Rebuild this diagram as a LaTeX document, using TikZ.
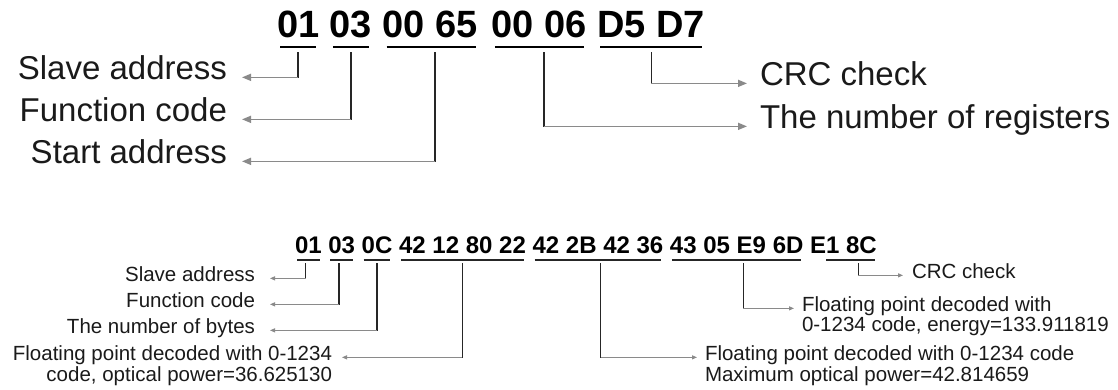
\documentclass[tikz,border=0pt]{standalone}
\usepackage{fontspec}
\setmainfont{Liberation Sans}
\usetikzlibrary{arrows.meta,calc}
\definecolor{linedark}{HTML}{262626}
\definecolor{linegray}{HTML}{8A8A8A}
\definecolor{txt}{HTML}{1A1A1A}
\begin{document}
\begin{tikzpicture}[x=1pt,y=-1pt,
  hexA/.style={font=\fontsize{38}{40}\selectfont\bfseries, inner sep=0pt, outer sep=0pt, anchor=base west, text=black},
  hexB/.style={font=\fontsize{24}{26}\selectfont\bfseries, inner sep=0pt, outer sep=0pt, anchor=base west, text=black},
  labA/.style={font=\fontsize{33}{36}\selectfont, inner sep=0pt, text=txt},
  labB/.style={font=\fontsize{20.5}{22}\selectfont, inner sep=0pt, text=txt},
  ulA/.style={line width=2pt, draw=black},
  ulB/.style={line width=1.8pt, draw=black!85},
  vA/.style={line width=1.5pt, draw=linedark, line cap=rect},
  hA/.style={line width=1.5pt, draw=linegray, -{Triangle[length=9pt,width=7pt]}},
  vB/.style={line width=1.2pt, draw=linedark, line cap=rect},
  hB/.style={line width=1pt, draw=linegray, -{Triangle[length=5pt,width=4pt]}},
]
\useasboundingbox (0,0) rectangle (1118,390);

% ---------- top frame ----------
\node[hexA] (t1) at (277,38) {01};
\node[hexA] (t2) at ($(t1.base east)+(10.56,0)$) {03};
\node[hexA] (t3) at ($(t2.base east)+(10.56,0)$) {00};
\node[hexA] (t4) at ($(t3.base east)+(10.56,0)$) {65};
\node[hexA] (t5) at ($(t4.base east)+(14,0)$) {00};
\node[hexA] (t6) at ($(t5.base east)+(10.56,0)$) {06};
\node[hexA] (t7) at ($(t6.base east)+(10.56,0)$) {D5};
\node[hexA] (t8) at ($(t7.base east)+(10.56,0)$) {D7};

\draw[ulA] ($(t1.base west)+(3,9)$) -- ($(t1.base east)+(-3,9)$);
\draw[ulA] ($(t2.base west)+(3,9)$) -- ($(t2.base east)+(-3,9)$);
\draw[ulA] ($(t3.base west)+(4,9)$) -- ($(t4.base east)+(-2,9)$);
\draw[ulA] ($(t5.base west)+(3,9)$) -- ($(t6.base east)+(-3,9)$);
\draw[ulA] ($(t7.base west)+(3,9)$) -- ($(t8.base east)+(-3,9)$);

\coordinate (m1) at ($(t1.base west)!0.5!(t1.base east)+(0,15)$);
\coordinate (m2) at ($(t2.base west)!0.5!(t2.base east)+(0,15)$);
\coordinate (m3) at ($(t3.base west)!0.55!(t4.base east)+(0,15)$);
\coordinate (m4) at ($(t5.base west)!0.55!(t6.base east)+(0,15)$);
\coordinate (m5) at ($(t7.base west)!0.5!(t8.base east)+(0,15)$);

\node[labA, anchor=base east, outer xsep=15pt] (l1) at (242,80) {Slave address};
\node[labA, anchor=base east, outer xsep=15pt] (l2) at (242,122) {Function code};
\node[labA, anchor=base east, outer xsep=15pt] (l3) at (242,164) {Start address};
\node[labA, anchor=base west, outer xsep=13pt] (r1) at (747,86) {CRC check};
\node[labA, anchor=base west, outer xsep=13pt] (r2) at (747,129) {The number of registers};

\draw[vA] (m1) -- (m1 |- l1.mid east);
\draw[hA] (m1 |- l1.mid east) -- (l1.mid east);
\draw[vA] (m2) -- (m2 |- l2.mid east);
\draw[hA] (m2 |- l2.mid east) -- (l2.mid east);
\draw[vA] (m3) -- (m3 |- l3.mid east);
\draw[hA] (m3 |- l3.mid east) -- (l3.mid east);
\draw[vA] (m4) -- (m4 |- r2.mid west);
\draw[hA] (m4 |- r2.mid west) -- (r2.mid west);
\draw[vA] (m5) -- (m5 |- r1.mid west);
\draw[hA] (m5 |- r1.mid west) -- (r1.mid west);

% ---------- bottom frame ----------
\node[hexB] (b1) at (295,253) {01};
\node[hexB] (b2) at ($(b1.base east)+(6.67,0)$) {03};
\node[hexB] (b3) at ($(b2.base east)+(6.67,0)$) {0C};
\node[hexB] (b4) at ($(b3.base east)+(6.67,0)$) {42};
\node[hexB] (b5) at ($(b4.base east)+(6.67,0)$) {12};
\node[hexB] (b6) at ($(b5.base east)+(6.67,0)$) {80};
\node[hexB] (b7) at ($(b6.base east)+(6.67,0)$) {22};
\node[hexB] (b8) at ($(b7.base east)+(6.67,0)$) {42};
\node[hexB] (b9) at ($(b8.base east)+(6.67,0)$) {2B};
\node[hexB] (b10) at ($(b9.base east)+(6.67,0)$) {42};
\node[hexB] (b11) at ($(b10.base east)+(6.67,0)$) {36};
\node[hexB] (b12) at ($(b11.base east)+(6.67,0)$) {43};
\node[hexB] (b13) at ($(b12.base east)+(6.67,0)$) {05};
\node[hexB] (b14) at ($(b13.base east)+(6.67,0)$) {E9};
\node[hexB] (b15) at ($(b14.base east)+(6.67,0)$) {6D};
\node[hexB] (b16) at ($(b15.base east)+(6.67,0)$) {E1};
\node[hexB] (b17) at ($(b16.base east)+(6.67,0)$) {8C};

\draw[ulB] ($(b1.base west)+(2,7)$) -- ($(b1.base east)+(-2,7)$);
\draw[ulB] ($(b2.base west)+(2,7)$) -- ($(b2.base east)+(-2,7)$);
\draw[ulB] ($(b3.base west)+(2,7)$) -- ($(b3.base east)+(-2,7)$);
\draw[ulB] ($(b4.base west)+(2,7)$) -- ($(b7.base east)+(-2,7)$);
\draw[ulB] ($(b8.base west)+(2,7)$) -- ($(b11.base east)+(-2,7)$);
\draw[ulB] ($(b12.base west)+(2,7)$) -- ($(b15.base east)+(-2,7)$);
\draw[ulB] ($(b16.base east)+(-13,7)$) -- ($(b17.base east)+(-2,7)$);

\coordinate (n1) at ($(b1.base west)!0.4!(b1.base east)+(0,11)$);
\coordinate (n2) at ($(b2.base west)!0.4!(b2.base east)+(0,11)$);
\coordinate (n3) at ($(b3.base west)!0.5!(b3.base east)+(0,11)$);
\coordinate (n4) at ($(b4.base west)!0.5!(b7.base east)+(0,11)$);
\coordinate (n5) at ($(b8.base west)!0.52!(b11.base east)+(0,11)$);
\coordinate (n6) at ($(b12.base west)!0.55!(b15.base east)+(0,11)$);
\coordinate (n7) at ($(b16.base east)!0.5!(b17.base east)+(0,11)$);

\node[labB, anchor=base east, outer xsep=15pt] (bl1) at (270,281) {Slave address};
\node[labB, anchor=base east, outer xsep=15pt] (bl2) at (270,307) {Function code};
\node[labB, anchor=base east, outer xsep=15pt] (bl3) at (270,333) {The number of bytes};
\node[labB, anchor=base east, outer xsep=10pt] (bl4) at (342,360) {Floating point decoded with 0-1234};
\node[labB, anchor=base east, outer xsep=10pt] (bl4b) at ($(bl4.base east)+(0,21)$) {code, optical power=36.625130};

\node[labB, anchor=base west, outer xsep=9pt] (br1) at (903,278) {CRC check};
\node[labB, anchor=base west, outer xsep=8pt] (br2) at (794,311) {Floating point decoded with};
\node[labB, anchor=base west, outer xsep=8pt] (br2b) at ($(br2.base west)+(0,20)$) {0-1234 code, energy=133.911819};
\node[labB, anchor=base west, outer xsep=8pt] (br3) at (697,360) {Floating point decoded with 0-1234 code};
\node[labB, anchor=base west, outer xsep=8pt] (br3b) at ($(br3.base west)+(0,21)$) {Maximum optical power=42.814659};

\draw[vB] (n1) -- (n1 |- bl1.mid east);
\draw[hB] (n1 |- bl1.mid east) -- (bl1.mid east);
\draw[vB] (n2) -- (n2 |- bl2.mid east);
\draw[hB] (n2 |- bl2.mid east) -- (bl2.mid east);
\draw[vB] (n3) -- (n3 |- bl3.mid east);
\draw[hB] (n3 |- bl3.mid east) -- (bl3.mid east);
\draw[vB] (n4) -- (n4 |- bl4.mid east);
\draw[hB] (n4 |- bl4.mid east) -- (bl4.mid east);
\draw[vB] (n5) -- (n5 |- br3.mid west);
\draw[hB] (n5 |- br3.mid west) -- (br3.mid west);
\draw[vB] (n6) -- (n6 |- br2.mid west);
\draw[hB] (n6 |- br2.mid west) -- (br2.mid west);
\draw[vB] (n7) -- (n7 |- br1.mid west);
\draw[hB] (n7 |- br1.mid west) -- (br1.mid west);
\end{tikzpicture}
\end{document}
